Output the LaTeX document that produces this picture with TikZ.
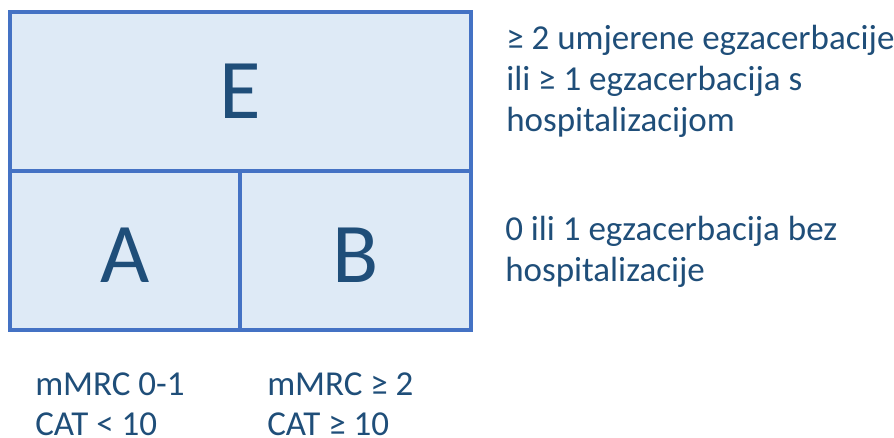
\documentclass[tikz,border=0pt]{standalone}
\usepackage{fontspec}
\setmainfont{Carlito}
\usetikzlibrary{positioning}
\definecolor{boxblue}{HTML}{4472C4}
\definecolor{boxfill}{HTML}{DEEAF6}
\definecolor{textblue}{HTML}{1F4E79}

\begin{document}
\begin{tikzpicture}[x=1pt, y=-1pt, line width=4.5pt, text=textblue,
    group/.style={rectangle, draw=boxblue, fill=boxfill, outer sep=0pt, inner sep=0pt, minimum height=159pt, font=\fontsize{85}{85}\selectfont},
    note/.style={anchor=base west, align=left, inner sep=0pt, font=\fontsize{35}{41}\selectfont}]
        \useasboundingbox (0,0) rectangle (894,438);
        \node[group, minimum width=461pt] (E) at (240.5,91.5) {E};
        \node[group, minimum width=230pt, text height=65pt, text depth=0pt, below right=0pt of E.south west] (A) {A};
        \node[group, minimum width=231pt, text height=65pt, text depth=0pt, below left=0pt of E.south east] (B) {B};
        % baseline of a multi-line node is its last line
        \node[note] (highrisk) at (504,132) {≥ 2 umjerene egzacerbacije\\ili ≥ 1 egzacerbacija s\\hospitalizacijom};
        \node[note] (lowrisk) at (503,282) {0 ili 1 egzacerbacija bez\\hospitalizacije};
        \node[note, font=\fontsize{35}{40}\selectfont] (fewsym) at (33,435) {mMRC 0-1\\CAT < 10};
        \node[note, font=\fontsize{35}{40}\selectfont] (moresym) at (265,435) {mMRC ≥ 2\\CAT ≥ 10};
    \end{tikzpicture}
\end{document}
